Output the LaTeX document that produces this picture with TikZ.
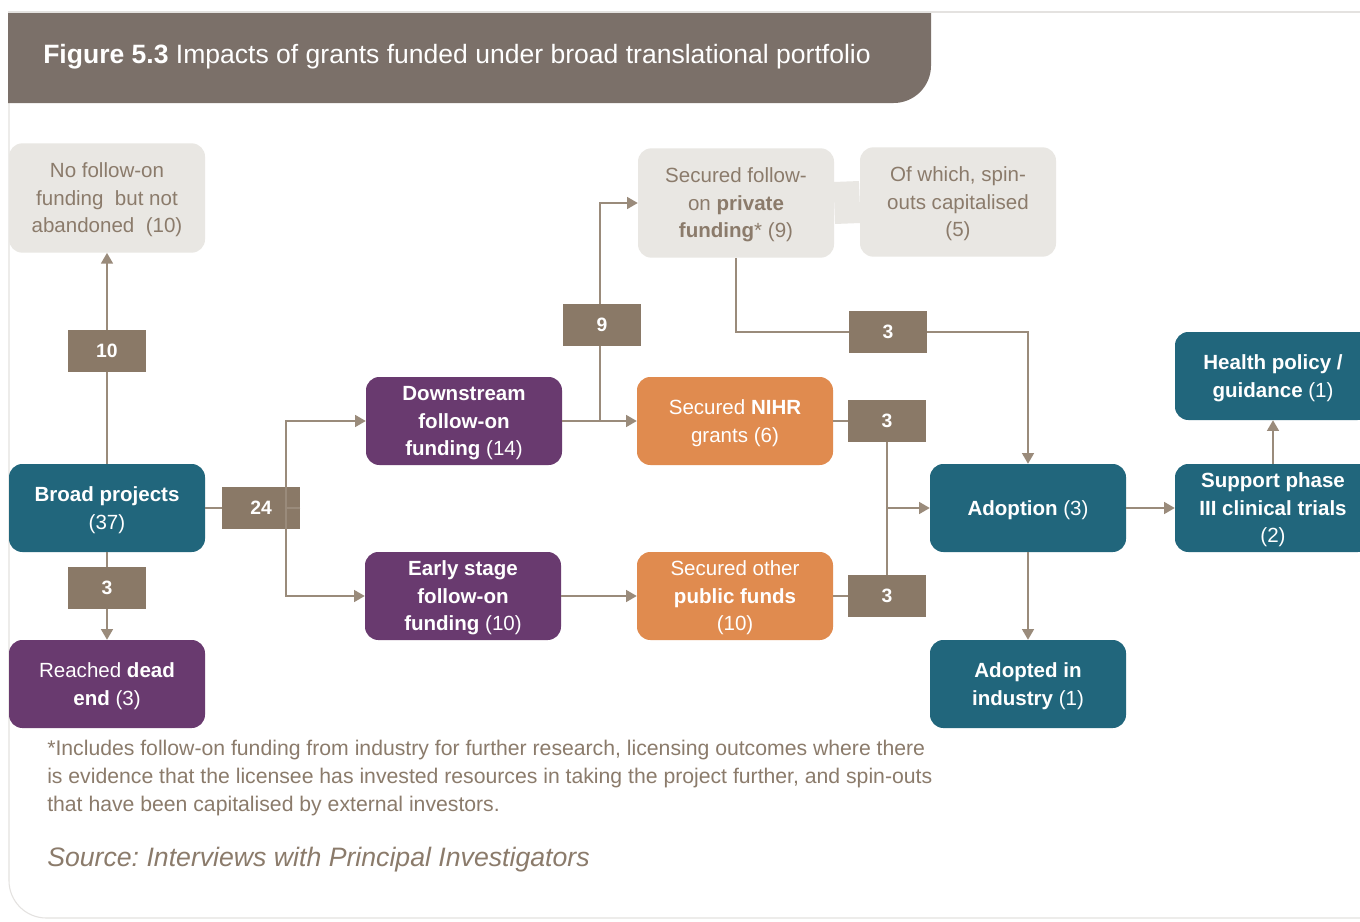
\documentclass[tikz,border=0pt]{standalone}
\usepackage{fontspec}
\setmainfont{Liberation Sans}
\usetikzlibrary{arrows.meta}
\definecolor{bandgrey}{HTML}{7B7069}
\definecolor{framegrey}{HTML}{E4E2E0}
\definecolor{tagbrown}{HTML}{8A7967}
\definecolor{linebrown}{HTML}{9A8B7B}
\definecolor{textbrown}{HTML}{8B7B6B}
\definecolor{boxgrey}{HTML}{E9E7E3}
\definecolor{rteal}{HTML}{21667C}
\definecolor{rpurple}{HTML}{693A6F}
\definecolor{rorange}{HTML}{E08B4F}
\frenchspacing

\begin{document}
\begin{tikzpicture}[x=0.75pt,y=-0.75pt,
    box/.style={rounded corners=10pt,minimum width=147pt,minimum height=66pt,
      inner sep=2pt,text depth=-2pt,align=center,font=\fontsize{15.4}{20.6}\selectfont},
    greybox/.style={box,fill=boxgrey,text=textbrown,minimum height=82pt},
    tealbox/.style={box,fill=rteal,text=white},
    purplebox/.style={box,fill=rpurple,text=white},
    orangebox/.style={box,fill=rorange,text=white},
    tag/.style={fill=tagbrown,text=white,inner sep=0pt,minimum width=58.5pt,
      minimum height=31.5pt,font=\fontsize{14.5}{17}\selectfont\bfseries},
    link/.style={draw=linebrown,line width=1.1pt},
    flow/.style={link,-{Triangle[length=8pt,width=9pt]}}]
  \clip (0,0) rectangle (1360,921);
  \fill[white] (0,0) rectangle (1360,921);

  % frame and title band
  \draw[framegrey,line width=0.8pt] (8,12) -- (1360,12);
  \draw[framegrey,line width=0.8pt,rounded corners=28pt] (9,103) -- (9,918) -- (1360,918);
  \fill[bandgrey] (8,103) -- (8,13) -- (931,13) -- (931,60)
    [rounded corners=28pt] -- (931,103) -- (700,103) [sharp corners] -- cycle;
  \node[anchor=base west,inner sep=0pt,text=white,font=\fontsize{19.9}{23}\selectfont] (title) at (43,63)
    {\textbf{Figure 5.3} Impacts of grants funded under broad translational portfolio};

  % boxes
  \node[greybox] (nofollow) at (107,198) {No follow-on\\funding\ \ but not\\abandoned\ \ (10)};
  \node[tealbox] (broad) at (107,508) {\textbf{Broad projects}\\(37)};
  \node[purplebox] (deadend) at (107,684) {Reached \textbf{dead}\\\textbf{end} (3)};
  \node[purplebox] (downstream) at (464,421) {\textbf{Downstream}\\\textbf{follow-on}\\\textbf{funding} (14)};
  \node[purplebox] (early) at (463,596) {\textbf{Early stage}\\\textbf{follow-on}\\\textbf{funding} (10)};
  \node[greybox] (private) at (736,203) {Secured follow-\\on \textbf{private}\\\textbf{funding}* (9)};
  \node[greybox] (spinouts) at (958,202) {Of which, spin-\\outs capitalised\\(5)};
  \node[orangebox] (nihr) at (735,421) {Secured \textbf{NIHR}\\grants (6)};
  \node[orangebox] (otherpub) at (735,596) {Secured other\\\textbf{public funds}\\(10)};
  \node[tealbox] (adoption) at (1028,508) {\textbf{Adoption} (3)};
  \node[tealbox] (industry) at (1028,684) {\textbf{Adopted in}\\\textbf{industry} (1)};
  \node[tealbox] (trials) at (1273,508) {\textbf{Support phase}\\\textbf{III clinical trials}\\(2)};
  \node[tealbox] (policy) at (1273,376) {\textbf{Health policy /}\\\textbf{guidance} (1)};
  \draw[boxgrey,line width=31.5pt] (private.east) -- (spinouts.west);

  % counts
  \node[tag] (t10) at (107,351) {10};
  \node[tag] (t3dead) at (107,588) {3};
  \node[tag] (t24) at (261,508) {24};
  \node[tag] (t9) at (602,325) {9};
  \node[tag] (t3priv) at (888,332) {3};
  \node[tag] (t3nihr) at (887,421) {3};
  \node[tag] (t3pub) at (887,596) {3};
  \coordinate (split) at (286,508);
  \coordinate (branch) at (600,421);
  \coordinate (join) at (887,508);

  % connectors
  \draw[link] (broad) -- (t10);
  \draw[flow] (t10) -- (nofollow);
  \draw[link] (broad) -- (t3dead);
  \draw[flow] (t3dead) -- (deadend);
  \draw[link] (broad) -- (t24) -- (split);
  \draw[flow] (split) |- (downstream);
  \draw[flow] (split) |- (early);
  \draw[flow] (downstream) -- (nihr);
  \draw[link] (branch) -- (branch |- t9.south);
  \draw[flow] (branch |- t9.north) |- (private);
  \draw[flow] (early) -- (otherpub);
  \draw[link] (private.south) |- (t3priv);
  \draw[flow] (t3priv) -| (adoption);
  \draw[link] (nihr) -- (t3nihr);
  \draw[link] (otherpub) -- (t3pub);
  \draw[link] (t3nihr) -- (t3pub);
  \draw[flow] (join) -- (adoption);
  \draw[flow] (adoption) -- (trials);
  \draw[flow] (adoption) -- (industry);
  \draw[flow] (trials) -- (policy);

  % notes
  \node[anchor=base west,inner sep=0pt,align=left,text=textbrown,font=\fontsize{15.9}{21}\selectfont] (note) at (47,811)
    {*Includes follow-on funding from industry for further research, licensing outcomes where there\\
     is evidence that the licensee has invested resources in taking the project further, and spin-outs\\
     that have been capitalised by external investors.};
  \node[anchor=base west,inner sep=0pt,text=textbrown,font=\fontsize{20}{24}\selectfont\itshape] (source) at (47,866)
    {Source: Interviews with Principal Investigators};
\end{tikzpicture}
\end{document}
